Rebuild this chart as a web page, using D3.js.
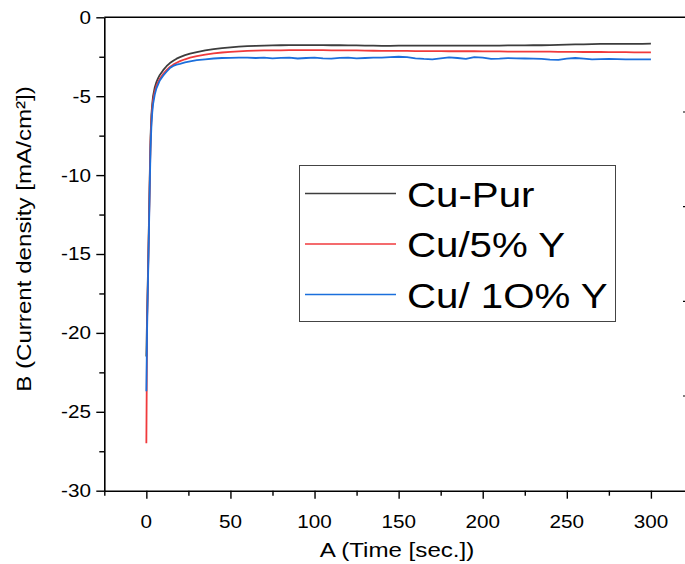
<!DOCTYPE html>
<html><head><meta charset="utf-8">
<script src="https://cdn.jsdelivr.net/npm/d3@7"></script>
<style>body{margin:0;background:#fff}svg{display:block}text{font-family:"Liberation Sans",Arial,sans-serif;fill:#000}</style>
</head><body><svg id="c" width="685" height="564"></svg>
<script>
// ---- data ----
const seriesNames = ["Cu-Pur", "Cu/5% Y", "Cu/ 1O% Y"];
const seriesColors = ["#3d3d3d", "#f03a3c", "#1b6fdc"];
const time = [0,0.5,1,1.5,2,2.5,3,3.5,4,5,6,7,8,10,12,14,16,18,20,23,26,30,35,40,45,50,55,
  60,65,70,75,80,85,90,95,100,105,110,115,120,125,130,135,140,145,150,
  155,160,165,170,175,180,185,190,195,200,205,210,215,220,225,230,235,240,245,250,
  255,260,265,270,275,280,285,290,295,300];
const cuPur = [-21.5,-18.6,-16.0,-13.2,-10.2,-7.6,-6.2,-5.5,-5.0,-4.45,-4.1,-3.85,-3.65,-3.35,-3.1,-2.9,-2.75,-2.62,-2.52,-2.4,-2.3,-2.2,-2.1,-2.02,-1.95,-1.9,-1.86,
  -1.83,-1.81,-1.79,-1.78,-1.77,-1.76,-1.76,-1.76,-1.76,
  -1.76,-1.77,-1.77,-1.78,-1.78,-1.79,-1.8,-1.81,-1.81,-1.8,
  -1.8,-1.8,-1.8,-1.8,-1.8,-1.8,-1.79,-1.79,-1.79,-1.79,
  -1.79,-1.79,-1.78,-1.78,-1.78,-1.77,-1.77,-1.76,-1.75,-1.73,
  -1.72,-1.71,-1.7,-1.69,-1.69,-1.69,-1.68,-1.68,-1.68,-1.67];
const cu5Y = [-27.0,-19.0,-16.3,-13.5,-10.5,-7.9,-6.5,-5.75,-5.25,-4.7,-4.35,-4.1,-3.9,-3.6,-3.35,-3.15,-3.0,-2.88,-2.78,-2.66,-2.56,-2.46,-2.37,-2.29,-2.23,-2.19,-2.16,
  -2.13,-2.11,-2.1,-2.09,-2.09,-2.08,-2.08,-2.08,-2.08,
  -2.08,-2.09,-2.09,-2.1,-2.1,-2.11,-2.12,-2.13,-2.13,-2.13,
  -2.13,-2.14,-2.14,-2.14,-2.14,-2.15,-2.15,-2.15,-2.15,-2.16,
  -2.16,-2.16,-2.17,-2.17,-2.17,-2.18,-2.18,-2.18,-2.19,-2.19,
  -2.19,-2.2,-2.2,-2.2,-2.21,-2.21,-2.21,-2.22,-2.22,-2.22];
const cu10Y = [-23.7,-19.3,-16.6,-13.8,-10.9,-8.3,-6.9,-6.05,-5.5,-4.9,-4.5,-4.25,-4.0,-3.7,-3.45,-3.22,-3.08,-3.0,-2.95,-2.86,-2.79,-2.72,-2.66,-2.61,-2.58,-2.57,-2.56,
  -2.56,-2.58,-2.55,-2.6,-2.57,-2.56,-2.61,-2.58,-2.55,
  -2.6,-2.62,-2.57,-2.55,-2.6,-2.58,-2.55,-2.56,-2.53,-2.5,
  -2.53,-2.6,-2.64,-2.66,-2.6,-2.54,-2.58,-2.64,-2.52,-2.56,
  -2.63,-2.62,-2.59,-2.6,-2.61,-2.62,-2.64,-2.68,-2.7,-2.62,
  -2.58,-2.62,-2.66,-2.65,-2.64,-2.65,-2.66,-2.66,-2.66,-2.66];
const xTickValues = [0,50,100,150,200,250,300];
const xMinorValues = [-25,25,75,125,175,225,275,325];
const yTickValues = [0,-5,-10,-15,-20,-25,-30];
const yMinorValues = [-2.5,-7.5,-12.5,-17.5,-22.5,-27.5];
const rightMarkValues = [-6,-12,-18,-24];
const xTitle = "A (Time [sec.])";
const yTitle = "B (Current density [mA/cm²])";

// ---- layout ----
const svg = d3.select("#c");
const x = d3.scaleLinear().domain([-25, 350]).range([104.3, 735]);
const y = d3.scaleLinear().domain([-30, 0]).range([490.7, 17.3]);
const SX = 1.15;
function txt(g, px, py, s, size, anchor, rot) {
  return g.append("text")
    .attr("transform", `translate(${px},${py})` + (rot ? ` rotate(${rot})` : "") + ` scale(${SX},1)`)
    .attr("text-anchor", anchor).attr("font-size", size).text(s);
}

const seriesData = [cuPur, cu5Y, cu10Y];
const line = d3.line().x(d => x(d[0])).y(d => y(d[1]));
const plot = svg.append("g");
seriesData.forEach((vals, i) => {
  plot.append("path")
    .datum(time.map((t, k) => [t, vals[k]]))
    .attr("d", line).attr("fill", "none")
    .attr("stroke", seriesColors[i]).attr("stroke-width", 1.8)
    .attr("stroke-linejoin", "round");
});

// frame top line
svg.append("line").attr("x1", x(-25)).attr("x2", 685).attr("y1", y(0)).attr("y2", y(0))
  .attr("stroke", "#000").attr("stroke-width", 1.6);

// right-side axis marks (cut off)
rightMarkValues.forEach(v => {
  svg.append("line").attr("x1", 683).attr("x2", 693).attr("y1", y(v)).attr("y2", y(v))
    .attr("stroke", "#000").attr("stroke-width", 1.2);
});

// axes
const gx = svg.append("g").attr("transform", `translate(0,${y(-30)})`);
gx.call(d3.axisBottom(x).tickValues(xTickValues).tickSize(8).tickSizeOuter(0).tickFormat(""));
gx.append("g").call(d3.axisBottom(x).tickValues(xMinorValues).tickSize(5).tickSizeOuter(0).tickFormat(""))
  .select(".domain").remove();
const gy = svg.append("g").attr("transform", `translate(${x(-25)},0)`);
gy.call(d3.axisLeft(y).tickValues(yTickValues).tickSize(8).tickSizeOuter(0).tickFormat(""));
gy.append("g").call(d3.axisLeft(y).tickValues(yMinorValues).tickSize(5).tickSizeOuter(0).tickFormat(""))
  .select(".domain").remove();
svg.selectAll(".domain").attr("stroke-width", 1.6);
svg.selectAll(".tick line").attr("stroke-width", 1.4);

// tick labels
xTickValues.forEach(v => txt(svg, x(v), 528, String(v), 18, "middle"));
yTickValues.forEach(v => txt(svg, 91, y(v) + 6.4, String(v), 18, "end"));

// titles
txt(svg, 397, 557, xTitle, 21, "middle");
txt(svg, 31, 239, yTitle, 21, "middle", -90);

// legend
const lg = svg.append("g");
lg.append("rect").attr("x", 299.5).attr("y", 165.5).attr("width", 316).attr("height", 156)
  .attr("fill", "#fff").attr("stroke", "#444").attr("stroke-width", 1);
seriesNames.forEach((name, i) => {
  const cy = 193.5 + i * 50.5;
  lg.append("line").attr("x1", 305).attr("x2", 396).attr("y1", cy).attr("y2", cy)
    .attr("stroke", seriesColors[i]).attr("stroke-width", 1.5);
  txt(lg, 407, cy + 13, name, 35, "start");
});
</script></body></html>
